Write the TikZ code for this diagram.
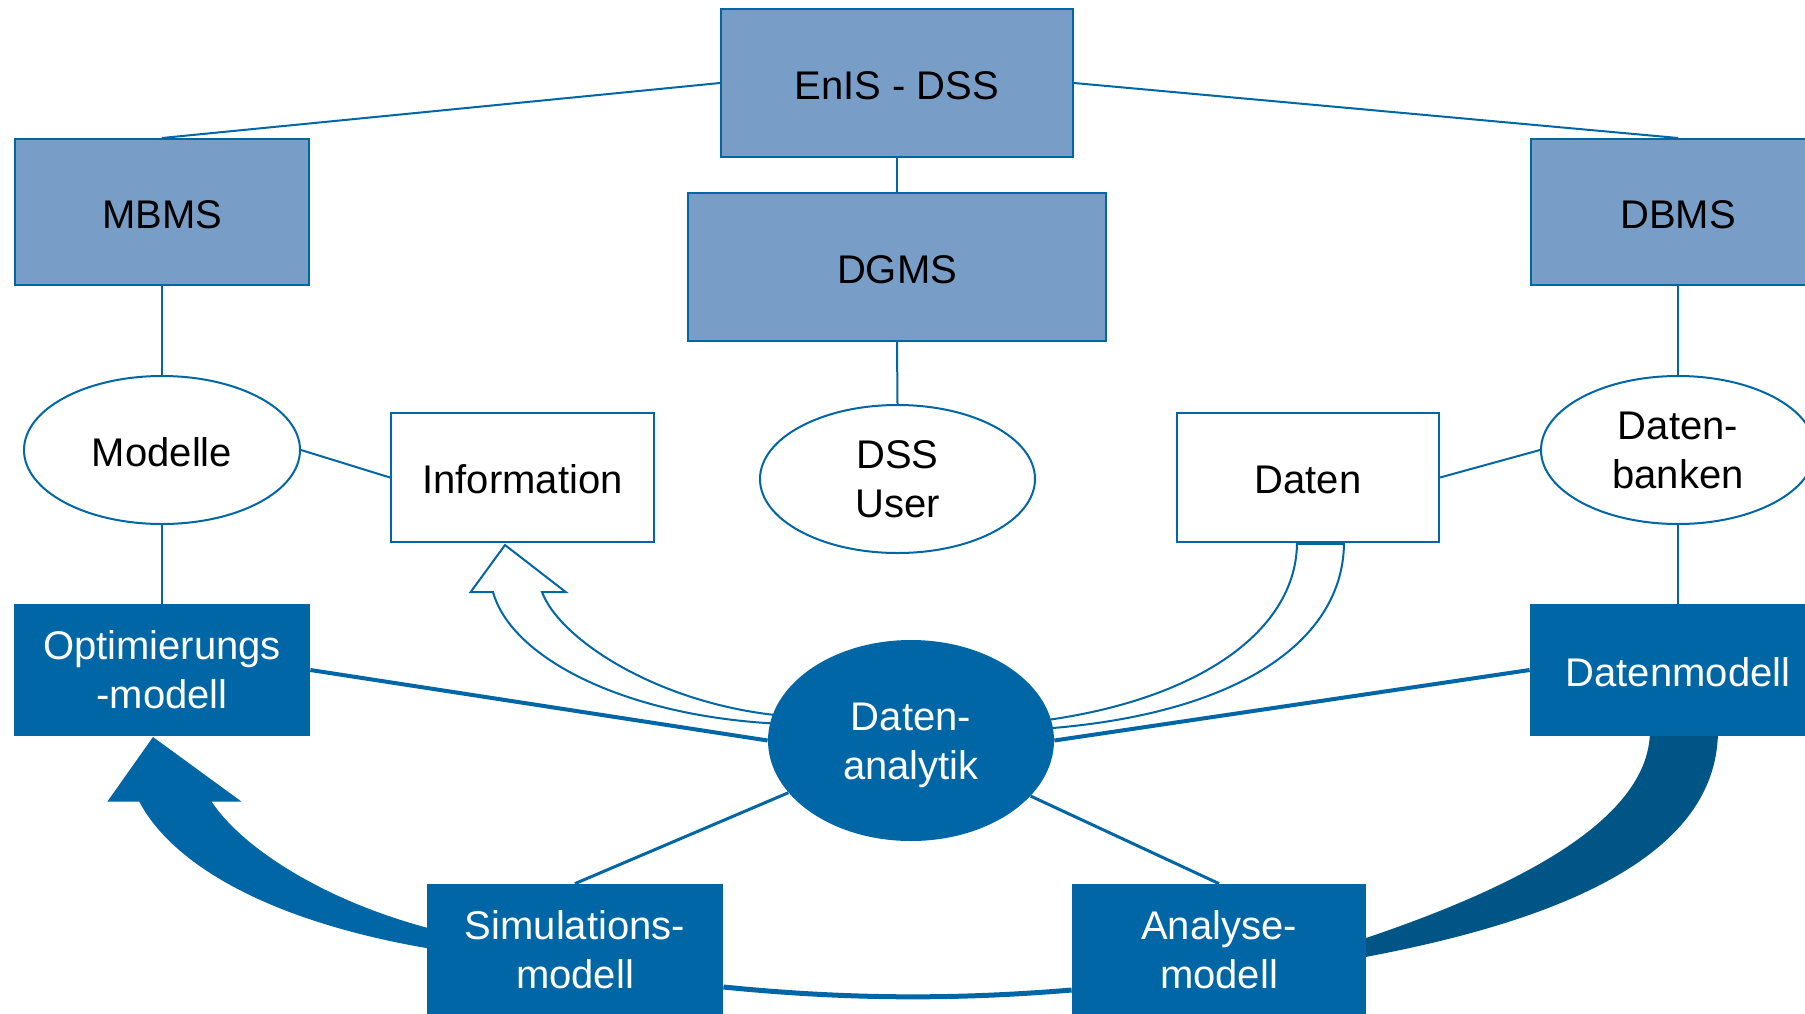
\documentclass[tikz,border=0pt]{standalone}
\usepackage{fontspec}
\setmainfont{Liberation Sans}
\usetikzlibrary{shapes.geometric}
\definecolor{dblue}{RGB}{0,102,166}
\definecolor{lblue}{RGB}{120,158,200}
\definecolor{ddblue}{RGB}{0,85,135}
\begin{document}
\begin{tikzpicture}[x=0.5pt,y=-0.5pt,
  txt/.style={inner sep=0pt, align=center, font=\fontsize{20}{24.5}\selectfont},
  sline/.style={text height=16.3pt, text depth=0pt},
  lbox/.style={txt, draw=dblue, line width=1pt, fill=lblue},
  wbox/.style={txt, draw=dblue, line width=1pt, fill=white},
  well/.style={txt, ellipse, draw=dblue, line width=1pt, fill=white},
  dbox/.style={txt, fill=dblue, text=white},
  dell/.style={txt, ellipse, fill=dblue, text=white},
  conn/.style={draw=dblue, line width=1pt},
  mconn/.style={draw=dblue, line width=1.5pt},
  tconn/.style={draw=dblue, line width=2pt},
]
\useasboundingbox (0,0) rectangle (1805,1013);

\node[lbox, sline, minimum width=176pt, minimum height=74pt] (E) at (897,83) {EnIS - DSS};
\node[lbox, sline, minimum width=147pt, minimum height=73pt] (MB) at (162,212) {MBMS};
\node[lbox, sline, minimum width=209pt, minimum height=74pt] (DG) at (897,267) {DGMS};
\node[lbox, sline, minimum width=147pt, minimum height=73pt] (DB) at (1678,212) {DBMS};

% connectors in the upper part
\draw[conn] (E.west) -- (MB.north);
\draw[conn] (E.east) -- (DB.north);
\draw[conn] (E.south) -- (DG.north);

% hollow arrow to Information
\draw[dblue, line width=1pt, fill=white, line join=miter]
  (505,545) -- (565.7,592) -- (542,592)
  .. controls (560,640) and (660,705) .. (785,716)
  -- (785,724)
  .. controls (630,718) and (512,660) .. (493,592)
  -- (470.7,592) -- cycle;
% hollow band from Daten
\draw[dblue, line width=1pt, fill=white]
  (1297,542) .. controls (1297,630) and (1200,700) .. (1040,721)
  -- (1040,729)
  .. controls (1240,715) and (1344,640) .. (1344,542) -- cycle;

% big filled arrow Simulationsmodell -> Optimierungsmodell
\fill[dblue]
  (153,737) -- (241.7,801.7) -- (211.7,801.7)
  .. controls (240,845) and (320,900) .. (432,929)
  -- (432,949)
  .. controls (260,920) and (170,860) .. (139.3,801.7)
  -- (107.3,801.7) -- cycle;
% big filled band Datenmodell -> Analysemodell
\fill[ddblue]
  (1650,730) .. controls (1650,800) and (1570,870) .. (1360,940)
  -- (1360,958)
  .. controls (1620,910) and (1718,830) .. (1718,730) -- cycle;

\node[well, sline, minimum width=138pt, minimum height=74pt] (Mo) at (162,450) {Modelle};
\node[wbox, sline, minimum width=131.5pt, minimum height=64.5pt] (In) at (522.5,477.5) {Information};
\node[well, minimum width=137.5pt, minimum height=74pt] (DU) at (897.5,479) {DSS\\User};
\node[wbox, sline, minimum width=131pt, minimum height=64.5pt] (Da) at (1308,477.5) {Daten};
\node[well, minimum width=137pt, minimum height=74pt] (Db) at (1678,450) {Daten-\\banken};
\draw[dblue, line width=2pt] (1296.5,543) -- (1344,543);

\node[dbox, minimum width=148pt, minimum height=66pt] (Op) at (162,670) {Optimierungs\\-modell};
\node[dbox, sline, minimum width=148pt, minimum height=66pt] (Dm) at (1678,670) {Datenmodell};
\node[dbox, minimum width=148pt, minimum height=66pt] (Si) at (575,950) {Simulations-\\modell};
\node[dbox, minimum width=147pt, minimum height=66pt] (An) at (1219,950) {Analyse-\\modell};
\node[dell, minimum width=143pt, minimum height=100.5pt] (DA) at (911,740.5) {};

\draw[conn] (MB.south) -- (Mo.north);
\draw[conn] (DG.south) -- (DU.north);
\draw[conn] (DB.south) -- (Db.north);
\draw[conn] (Mo.south) -- (Op.north);
\draw[conn] (Db.south) -- (Dm.north);
\draw[conn] (Mo.east) -- (In.west);
\draw[conn] (Da.east) -- (Db.west);

\draw[tconn] (Op.east) -- (DA.west);
\draw[tconn] (Dm.west) -- (DA.east);
\draw[mconn] (Si.north) -- (DA);
\draw[mconn] (An.north) -- (DA);
\draw[dblue, line width=2.5pt] ([yshift=-18.5pt]Si.east) .. controls +(120,12) and +(-120,10) .. ([yshift=-20pt]An.west);

\node[txt, text=white] (DAt) at ([yshift=-2.3pt]DA.center) {Daten-\\analytik};
\end{tikzpicture}
\end{document}
